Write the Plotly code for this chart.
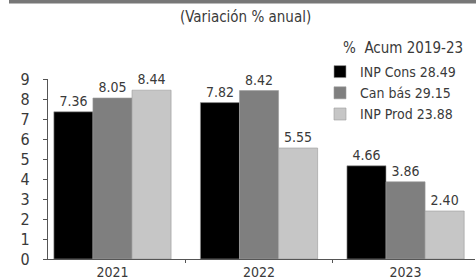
import plotly.graph_objects as go

years = ["2021", "2022", "2023"]
inp_cons = [7.36, 7.82, 4.66]
can_bas = [8.05, 8.42, 3.86]
inp_prod = [8.44, 5.55, 2.40]
names = ["INP Cons 28.49", "Can bás 29.15", "INP Prod 23.88"]
colors = ["#000000", "#7f7f7f", "#c6c6c6"]
y_ticks = list(range(0, 10))

FONT = "Liberation Sans Narrow, DejaVu Sans Condensed, Arial Narrow, sans-serif"
TXT = "#3a3a3a"

L, R, T, B = 48, 1, 79, 21
W, H = 476, 280
PW, PH = W - L - R, H - T - B


def px(xp):
    return (xp - L) / PW


def py(yp):
    return (H - B - yp) / PH


fig = go.Figure()
for name, vals, col in zip(names, [inp_cons, can_bas, inp_prod], colors):
    fig.add_trace(go.Bar(
        x=years, y=vals, name=name,
        marker=dict(color=col, line=dict(color="#9a9a9a", width=0.6)),
        text=[f"{v:.2f}" for v in vals], textposition="outside",
        textfont=dict(family=FONT, size=14, color=TXT),
        cliponaxis=False,
    ))

fig.update_layout(
    width=W, height=H,
    margin=dict(l=L, r=R, t=T, b=B),
    paper_bgcolor="white", plot_bgcolor="white",
    barmode="group", bargap=0.2, bargroupgap=0,
    font=dict(family=FONT, size=15, color=TXT),
    showlegend=True,
    legend=dict(
        x=px(320), y=py(56), xanchor="left", yanchor="top",
        font=dict(family=FONT, size=14, color=TXT),
        bgcolor="rgba(0,0,0,0)", itemwidth=30, tracegroupgap=0,
    ),
    xaxis=dict(
        type="category", range=[-0.44, 2.474],
        showline=True, linecolor="#555", linewidth=1.2,
        ticks="outside", tickson="boundaries", ticklen=3, tickcolor="#555",
        showgrid=False, ticklabelstandoff=0,
        tickfont=dict(family=FONT, size=14, color=TXT),
    ),
    yaxis=dict(
        range=[0, 9], tickvals=y_ticks,
        showline=True, linecolor="#555", linewidth=1.2,
        ticks="outside", ticklen=4, tickcolor="#555",
        showgrid=False, zeroline=False,
        ticklabelstandoff=10,
        tickfont=dict(family=FONT, size=16, color=TXT),
    ),
    annotations=[
        dict(
            text="(Variación % anual)", xref="paper", yref="paper",
            x=px(245), y=py(17), xanchor="center", yanchor="middle",
            showarrow=False, font=dict(family=FONT, size=15, color=TXT),
        ),
        dict(
            text="%  Acum 2019-23", xref="paper", yref="paper",
            x=px(341), y=py(48), xanchor="left", yanchor="middle",
            showarrow=False, font=dict(family=FONT, size=15, color=TXT),
        ),
    ],
    shapes=[dict(
        type="rect", xref="paper", yref="paper",
        x0=px(9), x1=px(478), y0=py(3.5), y1=py(-2),
        fillcolor="#777777", line=dict(width=0),
    )],
)

fig.write_html("out.html", config={"displayModeBar": False},
               post_script="document.body.style.margin='0';")
